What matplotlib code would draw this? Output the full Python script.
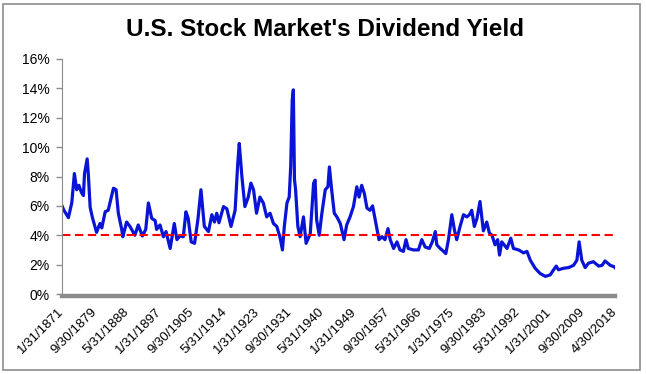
import numpy as np
import matplotlib.pyplot as plt
from matplotlib.ticker import FuncFormatter

plt.rcParams['font.family'] = ['Liberation Sans', 'DejaVu Sans']

# dividend yield (%), decimal years
years = [1871.0, 1871.5, 1872.0, 1872.7, 1873.6, 1874.3, 1874.9, 1875.5, 1876.2, 1876.7,
         1877.0, 1877.7, 1878.0, 1878.5, 1879.1, 1880.2, 1881.1, 1881.6, 1882.5, 1883.3,
         1884.7, 1885.4, 1886.0, 1886.9, 1887.2, 1888.2, 1889.1, 1890.4, 1891.3, 1892.4,
         1893.3, 1894.0, 1894.9, 1895.8, 1896.2, 1897.1, 1898.0, 1898.7, 1899.8, 1900.9,
         1901.6, 1902.4, 1903.3, 1904.0, 1904.6, 1905.4, 1906.3, 1907.2, 1908.0, 1908.9,
         1910.0, 1910.9, 1911.6, 1912.2, 1912.8, 1914.0, 1914.9, 1916.0, 1917.1, 1917.8,
         1918.2, 1918.9, 1919.7, 1920.6, 1921.3, 1922.0, 1922.8, 1923.7, 1924.6, 1925.5,
         1926.4, 1927.3, 1928.2, 1929.1, 1929.7, 1930.2, 1930.9, 1931.5, 1931.9, 1932.3,
         1932.6, 1932.9, 1933.2, 1933.8, 1934.4, 1935.3, 1936.0, 1937.1, 1938.0, 1938.4,
         1938.8, 1939.5, 1940.2, 1941.1, 1941.8, 1942.2, 1942.8, 1943.5, 1944.2, 1945.1,
         1946.1, 1946.8, 1947.7, 1948.6, 1949.5, 1950.1, 1950.8, 1951.5, 1952.2, 1953.0,
         1953.7, 1954.4, 1955.4, 1956.2, 1957.0, 1957.8, 1958.4, 1959.3, 1960.2, 1961.0,
         1961.9, 1962.6, 1963.2, 1964.6, 1965.9, 1966.8, 1967.7, 1968.8, 1969.6, 1970.4,
         1970.8, 1971.7, 1972.6, 1973.2, 1973.9, 1974.8, 1975.5, 1976.1, 1977.0, 1977.9,
         1978.8, 1979.5, 1980.1, 1980.8, 1981.5, 1982.3, 1983.2, 1984.1, 1984.8, 1985.5,
         1986.3, 1987.0, 1987.5, 1988.1, 1989.5, 1990.5, 1991.2, 1992.6, 1993.9, 1994.8,
         1995.7, 1997.0, 1998.3, 1999.7, 2001.0, 2001.9, 2002.6, 2003.2, 2004.5, 2005.9,
         2007.2, 2008.1, 2008.7, 2009.4, 2010.3, 2011.2, 2012.5, 2013.9, 2014.8, 2015.6,
         2017.0, 2018.1, 2018.25]
yield_pct = [6.0, 5.7, 5.5, 5.2, 6.2, 8.2, 7.1, 7.4, 6.9, 6.7,
             8.2, 9.2, 8.2, 5.9, 5.2, 4.2, 4.8, 4.5, 5.6, 5.7,
             7.2, 7.1, 5.5, 4.4, 3.9, 4.9, 4.6, 4.0, 4.7, 3.95,
             4.4, 6.2, 5.15, 5.0, 4.4, 4.7, 3.9, 4.25, 3.1, 4.8,
             3.7, 3.95, 3.9, 5.6, 5.15, 3.55, 3.45, 5.1, 7.1, 4.6,
             4.25, 5.4, 4.9, 5.5, 4.85, 5.95, 5.8, 4.6, 5.7, 8.9,
             10.25, 8.0, 5.95, 6.6, 7.55, 7.1, 5.5, 6.6, 6.2, 5.25,
             5.5, 4.8, 4.6, 3.8, 3.0, 4.6, 6.2, 6.6, 8.7, 13.2,
             13.9, 7.8, 7.1, 4.6, 3.9, 5.25, 3.45, 4.1, 7.55, 7.75,
             5.05, 4.0, 5.5, 7.1, 7.3, 8.65, 7.1, 5.5, 5.25, 4.8,
             3.7, 4.7, 5.25, 5.95, 7.3, 6.6, 7.4, 6.85, 5.85, 5.7,
             6.0, 5.05, 3.7, 3.9, 3.7, 4.45, 3.7, 3.1, 3.55, 3.0,
             2.9, 3.7, 3.1, 3.0, 3.0, 3.7, 3.2, 3.1, 3.55, 4.25,
             3.35, 3.1, 2.9, 2.75, 3.7, 5.4, 4.35, 3.7, 4.6, 5.4,
             5.25, 5.4, 5.7, 4.6, 5.15, 6.3, 4.3, 4.9, 4.15, 4.0,
             3.35, 3.7, 2.65, 3.55, 3.1, 3.8, 3.1, 3.0, 2.8, 2.9,
             2.3, 1.75, 1.4, 1.2, 1.3, 1.65, 1.9, 1.65, 1.75, 1.8,
             1.95, 2.3, 3.55, 2.3, 1.8, 2.1, 2.2, 1.9, 1.95, 2.25,
             1.95, 1.85, 1.8]

tick_labels = ['1/31/1871', '9/30/1879', '5/31/1888', '1/31/1897', '9/30/1905',
               '5/31/1914', '1/31/1923', '9/30/1931', '5/31/1940', '1/31/1949',
               '9/30/1957', '5/31/1966', '1/31/1975', '9/30/1983', '5/31/1992',
               '1/31/2001', '9/30/2009', '4/30/2018']
average = 4.0

# date label -> decimal year
def to_year(s):
    m, d, y = s.split('/')
    return int(y) + (int(m) - 1) / 12

tick_pos = [to_year(s) for s in tick_labels]

fig = plt.figure(figsize=(6.46, 3.74), dpi=100)
ax = fig.add_axes([62/646, 1 - 294/374, 553/646, 235/374])

# spines first: set_position resets the ticks
for s in ['top', 'right']:
    ax.spines[s].set_visible(False)
ax.spines['left'].set_color('#8c8c8c')
ax.spines['bottom'].set_color('#8c8c8c')
ax.spines['bottom'].set_linewidth(3.2)
ax.spines['bottom'].set_position(('outward', 1.5))

ax.plot(years, yield_pct, color='#0a14d6', lw=2.3, solid_joinstyle='round')
ax.axhline(average, color='#ff0000', lw=1.5, ls=(0, (4, 2.2)))

ax.set_xlim(tick_pos[0], tick_pos[-1])
ax.set_ylim(0, 16)
ax.set_yticks(np.arange(0, 17, 2))
ax.yaxis.set_major_formatter(FuncFormatter(lambda v, p: '%d%%' % v))
ax.tick_params(axis='x', length=0, pad=10)
ax.tick_params(axis='y', length=4, width=1, color='#8c8c8c', labelsize=10, pad=5)
ax.set_xticks(tick_pos)
ax.set_xticklabels(tick_labels, fontsize=9.5)
plt.setp(ax.get_xticklabels(), rotation=45, ha='right', va='center',
         rotation_mode='anchor')

fig.text(0.503, 0.92, "U.S. Stock Market's Dividend Yield", ha='center', va='center',
         fontsize=17.5, fontweight='bold')

# outer chart border
fig.add_artist(plt.Rectangle((3/646, 4/374), 637/646, 366/374, transform=fig.transFigure,
                             fill=False, edgecolor='#8c8c8c', lw=1.2))

fig.savefig('out.png', dpi=100)
